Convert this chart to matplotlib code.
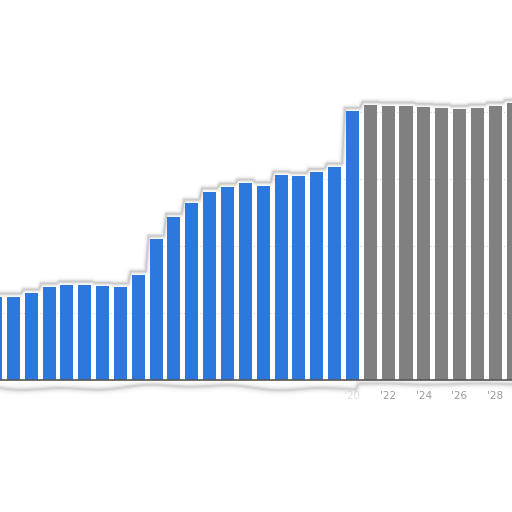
import matplotlib.pyplot as plt
import numpy as np

# yearly values, '00 .. '29 (actual in blue, projected in grey)
years = list(range(0, 30))
actual = [124, 124, 130, 139, 142, 142, 140, 139, 157, 210, 243, 264, 281, 288, 294,
          290, 306, 304, 310, 318, 401]
projected = [410, 409, 409, 407, 406, 404, 406, 409, 413]
tick_years = [20, 22, 24, 26, 28]
tick_labels = ["'20", "'22", "'24", "'26", "'28"]

blue = '#2c78dc'
grey = '#808080'

fig = plt.figure(figsize=(5.12, 5.12), dpi=100)
ax = fig.add_axes([0, 132 / 512, 1, 380 / 512])

x_act = np.array(years[:len(actual)])
x_proj = np.array(years[len(actual):])
ax.bar(x_act, actual, width=0.73, color=blue, zorder=3)
ax.bar(x_proj, projected, width=0.73, color=grey, zorder=3)

# faint dotted gridlines
for g in [100, 200, 300, 400]:
    ax.axhline(g, color='#d4d4d4', lw=0.8, ls=(0, (1, 2)), zorder=1)

# torn paper edge along the bar tops
heights = np.array(actual + projected, dtype=float)
xs, ys = [], []
for i, h in zip(years, heights):
    xs += [i - 0.42, i + 0.42]
    ys += [h + 5, h + 5]
xs = np.array(xs)
ys = np.array(ys)
# hide the grid above the tear
ax.fill_between(xs, ys, 600, color='white', zorder=1.5)
ax.fill_between([-1, xs[0]], [ys[0], ys[0]], 600, color='white', zorder=1.5)
ax.fill_between([xs[-1], 31], [ys[-1], ys[-1]], 600, color='white', zorder=1.5)
for lw, a in [(6, 0.04), (4, 0.08), (2.5, 0.14), (1.2, 0.25)]:
    ax.plot(xs, ys, color='#888888', lw=lw, alpha=a, zorder=2,
            solid_joinstyle='round', solid_capstyle='round')

# torn shadow under the baseline
xb = np.linspace(-1, 30, 200)
yb = -11 - 3 * np.sin(xb * 0.45) - 2 * np.sin(xb * 1.3)
yb[xb > 20.3] = -6 - 1 * np.sin(xb[xb > 20.3] * 1.1)
for lw, a in [(8, 0.04), (5, 0.07), (3, 0.12), (1.5, 0.18)]:
    ax.plot(xb, yb, color='#888888', lw=lw, alpha=a, clip_on=False, zorder=2)

ax.set_xlim(0.252, 28.94)
ax.set_ylim(0, 567)
ax.set_xticks(tick_years)
ax.set_xticklabels(tick_labels, fontsize=7.5, color='#9a9a9a')
ax.get_xticklabels()[0].set_alpha(0.3)
ax.tick_params(axis='x', length=0, pad=8)
ax.set_yticks([])
for s in ['top', 'right', 'left']:
    ax.spines[s].set_visible(False)
ax.spines['bottom'].set_color('#555555')
ax.spines['bottom'].set_linewidth(1.2)
ax.spines['bottom'].set_zorder(4)

fig.savefig('out.png', dpi=100)
